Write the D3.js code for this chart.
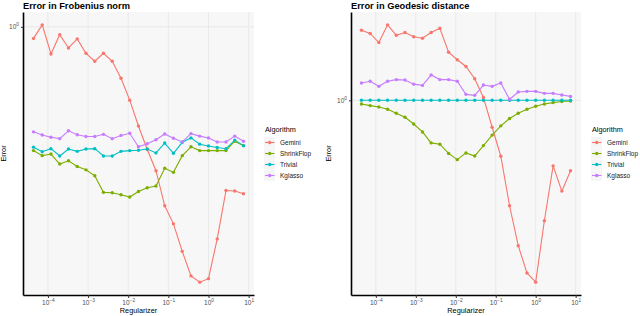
<!DOCTYPE html>
<html>
<head>
<meta charset="utf-8">
<script src="https://cdn.jsdelivr.net/npm/d3@7"></script>
<style>
  body { margin: 0; background: #fff; }
  text { font-family: "Liberation Sans", Arial, sans-serif; }
</style>
</head>
<body>
<svg id="chart" width="640" height="316"></svg>
<script>
// regularizer values (x), log spaced
const regularizer = [4.37e-5, 7.21e-5, 1.19e-4, 1.97e-4, 3.25e-4, 5.37e-4, 8.87e-4, 1.47e-3,
  2.42e-3, 4.00e-3, 6.61e-3, 1.09e-2, 1.80e-2, 2.98e-2, 4.92e-2, 8.13e-2, 0.134, 0.222,
  0.366, 0.605, 1, 1.65, 2.73, 4.51, 7.45];

const algorithms = ["Gemini", "ShrinkFlop", "Trivial", "Kglasso"];

// Error in Frobenius norm
const frobGemini = [0.948, 1.009, 0.882, 0.964, 0.907, 0.946, 0.885, 0.853, 0.885, 0.853,
  0.789, 0.713, 0.633, 0.568, 0.515, 0.438, 0.403, 0.355, 0.317, 0.308, 0.313, 0.376,
  0.470, 0.469, 0.463];
const frobShrinkFlop = [0.565, 0.552, 0.556, 0.531, 0.539, 0.525, 0.517, 0.503, 0.466, 0.465,
  0.461, 0.456, 0.468, 0.476, 0.480, 0.521, 0.511, 0.552, 0.575, 0.565, 0.565, 0.565,
  0.565, 0.590, 0.578];
const frobTrivial = [0.574, 0.562, 0.570, 0.551, 0.569, 0.563, 0.569, 0.570, 0.551, 0.551,
  0.563, 0.565, 0.566, 0.569, 0.559, 0.585, 0.558, 0.587, 0.599, 0.582, 0.577, 0.573,
  0.570, 0.593, 0.578];
const frobKglasso = [0.616, 0.607, 0.601, 0.597, 0.619, 0.608, 0.603, 0.603, 0.609, 0.597,
  0.606, 0.612, 0.575, 0.583, 0.594, 0.610, 0.598, 0.588, 0.611, 0.604, 0.599, 0.588,
  0.588, 0.604, 0.590];

// Error in Geodesic distance
const geoGemini = [1.499, 1.471, 1.396, 1.546, 1.456, 1.479, 1.443, 1.431, 1.479, 1.516,
  1.320, 1.264, 1.216, 1.133, 1.017, 0.856, 0.724, 0.544, 0.432, 0.369, 0.350, 0.499,
  0.685, 0.592, 0.666];
const geoShrinkFlop = [0.979, 0.970, 0.962, 0.950, 0.928, 0.907, 0.872, 0.833, 0.782, 0.776,
  0.736, 0.710, 0.738, 0.725, 0.770, 0.818, 0.863, 0.900, 0.928, 0.950, 0.966, 0.979,
  0.987, 0.993, 0.996];
const geoTrivial = [1, 1, 1, 1, 1, 1, 1, 1, 1, 1, 1, 1, 1, 1, 1, 1, 1, 1, 1, 1, 1, 1, 1, 1, 1];
const geoKglasso = [1.105, 1.116, 1.084, 1.116, 1.127, 1.124, 1.098, 1.090, 1.157, 1.127,
  1.127, 1.116, 1.035, 1.029, 1.092, 1.084, 1.105, 1.006, 1.049, 1.053, 1.053, 1.041,
  1.041, 1.031, 1.023];

const xTicks = [1e-4, 1e-3, 1e-2, 1e-1, 1e0, 1e1];
const xTickExp = ["−4", "−3", "−2", "−1", "0", "1"];
const yTicks = [1];
const yTickExp = ["0"];

const color = d3.scaleOrdinal()
  .domain(algorithms)
  .range(["#F8766D", "#7CAE00", "#00BFC4", "#C77CFF"]);

const svg = d3.select("#chart");

const panels = [
  { title: "Error in Frobenius norm", left: 23, right: 254, yLabelX: 6, legendX: 265,
    series: [frobGemini, frobShrinkFlop, frobTrivial, frobKglasso] },
  { title: "Error in Geodesic distance", left: 351, right: 581, yLabelX: 331, legendX: 592,
    series: [geoGemini, geoShrinkFlop, geoTrivial, geoKglasso] }
];

const plotTop = 12, plotBottom = 295;

function expandLog(ext) {
  const a = Math.log10(ext[0]), b = Math.log10(ext[1]);
  const p = (b - a) * 0.05;
  return [Math.pow(10, a - p), Math.pow(10, b + p)];
}

function powLabel(sel, exps) {
  sel.each(function(d, i) {
    const t = d3.select(this);
    t.text(null);
    t.append("tspan").text("10");
    t.append("tspan").attr("dy", -3).attr("font-size", 4.8).text(exps[i]);
  });
}

panels.forEach(p => {
  const g = svg.append("g");

  const x = d3.scaleLog()
    .domain(expandLog(d3.extent(regularizer)))
    .range([p.left, p.right]);
  const allVals = p.series.flat();
  const y = d3.scaleLog()
    .domain(expandLog(d3.extent(allVals)))
    .range([plotBottom, plotTop]);

  // panel background + grid
  g.append("rect")
    .attr("x", p.left).attr("y", plotTop)
    .attr("width", p.right - p.left).attr("height", plotBottom - plotTop)
    .attr("fill", "#F7F7F7");

  g.selectAll(".vgrid").data(xTicks).enter().append("line")
    .attr("x1", d => x(d)).attr("x2", d => x(d))
    .attr("y1", plotTop).attr("y2", plotBottom)
    .attr("stroke", "#E6E6E6").attr("stroke-width", 0.8);
  g.selectAll(".hgrid").data(yTicks).enter().append("line")
    .attr("x1", p.left).attr("x2", p.right)
    .attr("y1", d => y(d)).attr("y2", d => y(d))
    .attr("stroke", "#E6E6E6").attr("stroke-width", 0.8);

  // lines then points
  const line = d3.line()
    .x((d, i) => x(regularizer[i]))
    .y(d => y(d));

  p.series.forEach((vals, k) => {
    g.append("path")
      .datum(vals)
      .attr("d", line)
      .attr("fill", "none")
      .attr("stroke", color(algorithms[k]))
      .attr("stroke-width", 1.1);
  });
  p.series.forEach((vals, k) => {
    g.selectAll(".pt" + k).data(vals).enter().append("circle")
      .attr("cx", (d, i) => x(regularizer[i]))
      .attr("cy", d => y(d))
      .attr("r", 1.7)
      .attr("fill", color(algorithms[k]));
  });

  // axes
  const xAxis = g.append("g")
    .attr("transform", `translate(0,${plotBottom})`)
    .call(d3.axisBottom(x).tickValues(xTicks).tickSize(3).tickSizeOuter(0).tickPadding(2));
  xAxis.select(".domain").attr("stroke", "#000").attr("stroke-width", 1.6);
  xAxis.selectAll(".tick line").attr("stroke", "#333");
  xAxis.selectAll(".tick text")
    .attr("font-size", 6.5).attr("fill", "#4D4D4D")
    .attr("font-family", "'Liberation Sans', Arial, sans-serif")
    .call(powLabel, xTickExp);

  const yAxis = g.append("g")
    .attr("transform", `translate(${p.left},0)`)
    .call(d3.axisLeft(y).tickValues(yTicks).tickSize(2).tickSizeOuter(0).tickPadding(2));
  yAxis.select(".domain").attr("stroke", "#000").attr("stroke-width", 1.6);
  yAxis.selectAll(".tick line").attr("stroke", "#333");
  yAxis.selectAll(".tick text")
    .attr("font-size", 6.5).attr("fill", "#4D4D4D")
    .attr("font-family", "'Liberation Sans', Arial, sans-serif")
    .call(powLabel, yTickExp);

  // titles
  g.append("text")
    .attr("x", p.left).attr("y", 9)
    .attr("font-size", 9.3).attr("font-weight", "bold")
    .text(p.title);
  g.append("text")
    .attr("x", (p.left + p.right) / 2).attr("y", 313)
    .attr("text-anchor", "middle").attr("font-size", 7.3)
    .text("Regularizer");
  g.append("text")
    .attr("transform", `translate(${p.yLabelX},${(plotTop + plotBottom) / 2}) rotate(-90)`)
    .attr("text-anchor", "middle").attr("font-size", 7.3)
    .text("Error");

  // legend
  const lg = g.append("g").attr("transform", `translate(${p.legendX},0)`);
  lg.append("text").attr("x", 0).attr("y", 132)
    .attr("font-size", 7.3).text("Algorithm");
  algorithms.forEach((a, k) => {
    const cy = 142.5 + k * 11;
    lg.append("rect").attr("x", -1).attr("y", cy - 5.3)
      .attr("width", 11).attr("height", 10.6).attr("fill", "#F5F5F5");
    lg.append("line").attr("x1", 0).attr("x2", 9.5).attr("y1", cy).attr("y2", cy)
      .attr("stroke", color(a)).attr("stroke-width", 1.1);
    lg.append("circle").attr("cx", 4.7).attr("cy", cy).attr("r", 1.7).attr("fill", color(a));
    lg.append("text").attr("x", 15).attr("y", cy + 2.4)
      .attr("font-size", 6.5).attr("fill", "#1a1a1a").text(a);
  });
});
</script>
</body>
</html>
